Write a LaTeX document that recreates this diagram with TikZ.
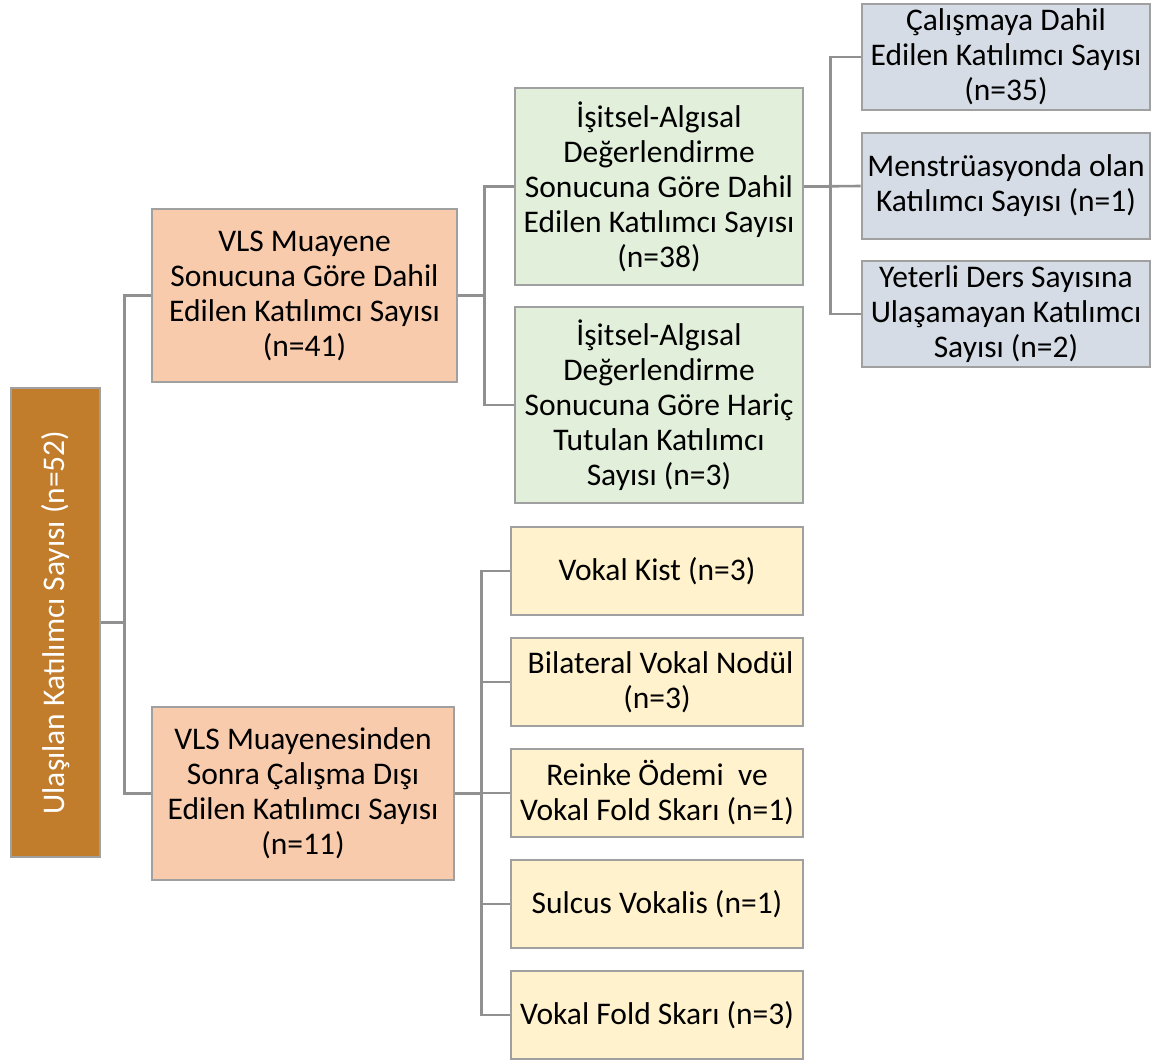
\documentclass[tikz,border=0pt]{standalone}
\usepackage{fontspec}
\setmainfont{Carlito}
\definecolor{rootc}{HTML}{C17D2C}
\definecolor{vlsc}{HTML}{F8CBAD}
\definecolor{grnc}{HTML}{E2EFDA}
\definecolor{gryc}{HTML}{D6DCE5}
\definecolor{ylwc}{HTML}{FFF2CC}
\definecolor{bordc}{HTML}{A0A0A0}
\definecolor{linec}{HTML}{909090}
\tikzset{
  box/.style={draw=bordc, line width=2.8pt, align=center, inner sep=0pt,
    font=\fontsize{31.5}{35}\selectfont, text=black},
  conn/.style={draw=linec, line width=2.6pt}
}
\begin{document}
\begin{tikzpicture}[x=1pt,y=-1pt]
\useasboundingbox (0,0) rectangle (1162,1061);
% root
\node[box, fill=rootc, minimum width=89, minimum height=469] (root) at (55.5,622.5) {};
\node[rotate=90, text=white, font=\fontsize{31.5}{35}\selectfont] (roott) at (root.center) {Ulaşılan Katılımcı Sayısı (n=52)};
% level 1
\node[box, fill=vlsc, minimum width=305, minimum height=173] (v1) at (304.5,295.5)
  {VLS Muayene\\Sonucuna Göre Dahil\\Edilen Katılımcı Sayısı\\(n=41)};
\node[box, fill=vlsc, minimum width=302, minimum height=173] (v2) at (303,793.5)
  {VLS Muayenesinden\\Sonra Çalışma Dışı\\Edilen Katılımcı Sayısı\\(n=11)};
% level 2 green
\node[box, fill=grnc, minimum width=288, minimum height=197] (g1) at (659,186.5)
  {İşitsel-Algısal\\Değerlendirme\\Sonucuna Göre Dahil\\Edilen Katılımcı Sayısı\\(n=38)};
\node[box, fill=grnc, minimum width=288, minimum height=196] (g2) at (659,405)
  {İşitsel-Algısal\\Değerlendirme\\Sonucuna Göre Hariç\\Tutulan Katılımcı\\Sayısı (n=3)};
% level 3 gray
\node[box, fill=gryc, minimum width=288, minimum height=106] (s1) at (1006,57)
  {Çalışmaya Dahil\\Edilen Katılımcı Sayısı\\(n=35)};
\node[box, fill=gryc, minimum width=288, minimum height=106] (s2) at (1006,186)
  {Menstrüasyonda olan\\Katılımcı Sayısı (n=1)};
\node[box, fill=gryc, minimum width=288, minimum height=106] (s3) at (1006,314)
  {Yeterli Ders Sayısına\\Ulaşamayan Katılımcı\\Sayısı (n=2)};
% yellow
\node[box, fill=ylwc, minimum width=292, minimum height=88] (y1) at (657,571) {Vokal Kist (n=3)};
\node[box, fill=ylwc, minimum width=292, minimum height=88] (y2) at (657,682) {\ Bilateral Vokal Nodül\\(n=3)};
\node[box, fill=ylwc, minimum width=292, minimum height=88] (y3) at (657,793) {Reinke Ödemi\ \ ve\\Vokal Fold Skarı (n=1)};
\node[box, fill=ylwc, minimum width=292, minimum height=88] (y4) at (657,904) {Sulcus Vokalis (n=1)};
\node[box, fill=ylwc, minimum width=292, minimum height=88] (y5) at (657,1015) {Vokal Fold Skarı (n=3)};
% connectors
\draw[conn] (v1.west) -- ++(-26,0) |- (root.east);
\draw[conn] (v2.west) -- ++(-26,0) |- (root.east);
\draw[conn] (g1.west) -- ++(-29,0) |- (v1.east);
\draw[conn] (g2.west) -- ++(-29,0) |- (v1.east);
\draw[conn] (s1.west) -- ++(-30,0) |- (g1.east);
\draw[conn] (s2.west) -- (g1.east);
\draw[conn] (s3.west) -- ++(-30,0) |- (g1.east);
\foreach \n in {y1,y2,y3,y4,y5}{
  \draw[conn] (\n.west) -- ++(-28,0) |- (v2.east);
}
\end{tikzpicture}
\end{document}
